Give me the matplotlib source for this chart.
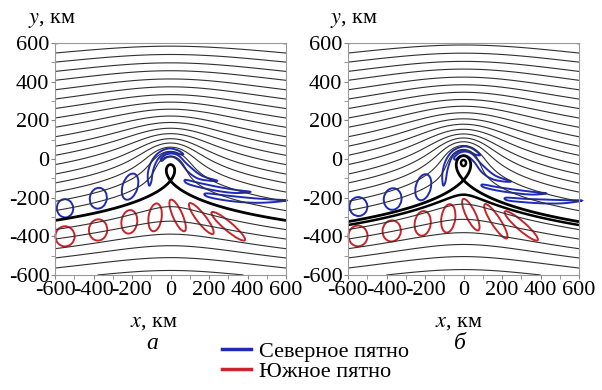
import numpy as np
import matplotlib.pyplot as plt
from matplotlib.patches import Ellipse, Polygon
from matplotlib.lines import Line2D
from matplotlib.ticker import MultipleLocator

plt.rcParams['font.family'] = ['Liberation Serif', 'DejaVu Serif']
plt.rcParams['mathtext.fontset'] = 'stix'
plt.rcParams['axes.unicode_minus'] = False

# ---- flow: uniform stream + gaussian vortex (per panel) ----
vort_a = dict(a=110.0, R=62.0, y_stag=-112.0)
vort_b = dict(a=125.0, R=60.0, y_stag=-109.0)
ring_b_top = -5.0          # inner closed streamline in panel b crosses x=0 here

# y (km) where each thin streamline crosses the left edge x = -600
edge_y = [596, 548, 501, 453, 407, 358, 310, 261, 212, 164, 115, 66, 19,
          -29, -78, -124, -171, -219, -267, -365, -414, -464, -512, -564, -622]

# ---- spots drawn as ellipses: centre x, centre y, width, height, angle ----
red_a = dict(cx=[-548, -376, -214, -80, 37, 160, 300],
             cy=[-400, -367, -325, -302, -292, -308, -348],
             w=[100, 95, 82, 68, 178, 200, 225],
             h=[104, 110, 122, 145, 50, 48, 45],
             ang=[0, -5, -8, -8, -66, -52, -40])
blue_a = dict(cx=[-548, -375, -210], cy=[-255, -203, -143],
              w=[85, 88, 78], h=[95, 108, 140], ang=[8, -10, -18])

red_b = dict(cx=[-548, -373, -212, -79, 38, 168, 300],
             cy=[-398, -372, -333, -307, -288, -322, -346],
             w=[99, 95, 83, 72, 180, 210, 226],
             h=[107, 109, 128, 148, 50, 48, 45],
             ang=[0, -5, -8, -8, -64, -57, -41])
blue_b = dict(cx=[-546, -368, -209], cy=[-246, -207, -146],
              w=[93, 92, 78], h=[98, 112, 138], ang=[5, -8, -15])

# ---- stretched northern spots: outline points (km) ----
north_a = [
    ([-112, -118, -100, -62, -12, 35, 66, 48, 12, -28, -66, -90, -100],
     [-136, -78, -15, 32, 54, 46, 26, 24, 34, 30, -2, -58, -118]),
    ([-50, -25, 10, 45, 90, 160, 242, 200, 140, 90, 50, 15, -20, -45],
     [0, 22, 28, 15, -30, -85, -112, -112, -100, -65, -15, 10, 8, -10]),
    ([78, 150, 250, 340, 415, 340, 250, 150, 85],
     [-108, -124, -145, -160, -170, -176, -166, -146, -126]),
    ([185, 300, 420, 520, 604, 520, 420, 300, 195],
     [-178, -190, -202, -209, -214, -224, -226, -216, -196]),
]
north_b = [
    ([-106, -110, -94, -58, -5, 42, 86, 64, 24, -18, -58, -82, -94],
     [-136, -78, -12, 40, 64, 56, 22, 22, 40, 42, 12, -52, -118]),
    ([-48, -20, 15, 50, 95, 165, 246, 205, 145, 95, 55, 20, -18, -42],
     [8, 32, 38, 22, -28, -86, -115, -116, -102, -68, -15, 14, 14, -4]),
    ([100, 180, 280, 360, 430, 360, 280, 180, 105],
     [-132, -146, -160, -170, -178, -184, -178, -164, -146]),
    ([222, 320, 430, 530, 616, 530, 430, 320, 228],
     [-200, -206, -210, -213, -215, -228, -230, -224, -214]),
]

BLUE = '#1f2bb8'
RED = '#c8242a'


def g_table(R):
    rr = np.linspace(0, 2000, 200001)
    f = np.zeros_like(rr)
    f[1:] = (1 - np.exp(-(rr[1:] / R) ** 2)) / rr[1:]
    G = np.concatenate([[0.0], np.cumsum(0.5 * (f[1:] + f[:-1]) * np.diff(rr))])
    return rr, f, G


def flow(a, R, y_stag):
    rr, f, G = g_table(R)
    r2 = rr[np.nonzero(a * f >= 1)[0][-1]]   # outer stagnation radius
    yv = y_stag + r2

    def psi(x, y):
        return y + a * np.interp(np.hypot(x, y - yv), rr, G)
    return psi


def smooth_closed(px, py, n=16):
    P = np.column_stack([px, py]).astype(float)
    m = len(P)
    t = np.linspace(0, 1, n, endpoint=False)[:, None]
    out = []
    for i in range(m):
        p0, p1, p2, p3 = P[i - 1], P[i], P[(i + 1) % m], P[(i + 2) % m]
        out.append(0.5 * (2 * p1 + (-p0 + p2) * t
                          + (2 * p0 - 5 * p1 + 4 * p2 - p3) * t ** 2
                          + (-p0 + 3 * p1 - 3 * p2 + p3) * t ** 3))
    return np.vstack(out)


def draw_panel(ax, vort, red, blue, north, ring_top=None):
    psi = flow(**vort)
    xs = np.linspace(-600, 600, 1201)
    X, Y = np.meshgrid(xs, xs)
    P = psi(X, Y)
    levels = np.sort(psi(-600.0, np.array(edge_y, float)))
    ax.contour(X, Y, P, levels=levels, colors='#303030', linewidths=0.8,
               linestyles='solid')
    # separatrix: a hair below the saddle value gives the loop + lower branch
    ps = psi(0.0, vort['y_stag']) - 0.01
    ax.contour(X, Y, P, levels=[ps], colors='black', linewidths=2.0,
               linestyles='solid')
    if ring_top is not None:
        ax.contour(X, Y, P, levels=[psi(0.0, ring_top)], colors='black',
                   linewidths=1.8, linestyles='solid')

    for d, col in ((red, RED), (blue, BLUE)):
        for cx, cy, w, h, an in zip(d['cx'], d['cy'], d['w'], d['h'], d['ang']):
            ax.add_patch(Ellipse((cx, cy), w, h, angle=an, fill=False,
                                 ec=col, lw=1.4, clip_on=False))
    for px, py in north:
        ax.add_patch(Polygon(smooth_closed(px, py), closed=True, fill=False,
                             ec=BLUE, lw=1.4, clip_on=False))

    ax.set_xlim(-600, 600)
    ax.set_ylim(-600, 600)
    ax.set_xticks(np.arange(-600, 601, 200))
    ax.set_yticks(np.arange(-600, 601, 200))
    ax.xaxis.set_minor_locator(MultipleLocator(100))
    ax.yaxis.set_minor_locator(MultipleLocator(100))
    ax.tick_params(which='both', direction='out', length=3, color='#888888',
                   labelsize=16, pad=1)
    for s in ax.spines.values():
        s.set_color('#999999')
        s.set_linewidth(0.8)


fig = plt.figure(figsize=(6.02, 3.90), dpi=100)
ax_a = fig.add_axes([55 / 602, 115 / 390, 231 / 602, 232 / 390])
ax_b = fig.add_axes([348 / 602, 115 / 390, 231 / 602, 232 / 390])

draw_panel(ax_a, vort_a, red_a, blue_a, north_a)
draw_panel(ax_b, vort_b, red_b, blue_b, north_b, ring_top=ring_b_top)

for ax, xl, xx in ((ax_a, -0.117, 0.325), (ax_b, -0.078, 0.377)):
    ax.text(xl, 1.099, r'$y$, км', transform=ax.transAxes, fontsize=16,
            ha='left', va='center')
    ax.text(xx, -0.203, r'$x$, км', transform=ax.transAxes, fontsize=16,
            ha='left', va='center')
ax_a.text(0.42, -0.295, 'а', style='italic', transform=ax_a.transAxes,
          fontsize=17, ha='center', va='center')
ax_b.text(0.485, -0.295, 'б', style='italic', transform=ax_b.transAxes,
          fontsize=17, ha='center', va='center')

handles = [Line2D([], [], color=BLUE, lw=2.5), Line2D([], [], color=RED, lw=2.5)]
fig.legend(handles, ['Северное пятно', 'Южное пятно'], loc='upper left',
           bbox_to_anchor=(222 / 602, 1 - 341 / 390), frameon=False,
           fontsize=16, handlelength=1.3, handletextpad=0.35,
           labelspacing=0.0, borderpad=0, borderaxespad=0)

fig.savefig('out.png', dpi=100)
